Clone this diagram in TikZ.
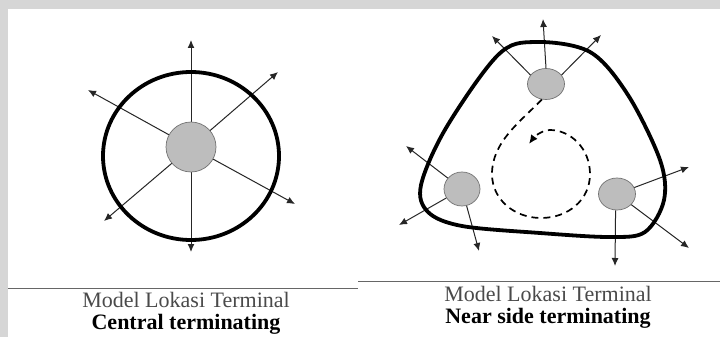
\documentclass[tikz,border=0pt]{standalone}
\usepackage{fontspec}
\setmainfont{Liberation Serif}
\usetikzlibrary{arrows.meta,shapes.geometric}
\definecolor{framegray}{HTML}{D6D6D6}
\definecolor{termgray}{HTML}{BDBDBD}
\definecolor{capgray}{HTML}{4A4A4A}

\begin{document}
\begin{tikzpicture}[x=1pt,y=-1pt,
  terminal/.style={ellipse,draw=black!55,fill=termgray,line width=0.7pt,inner sep=0pt},
  route/.style={draw=black!85,line width=1pt,-{Latex[length=8pt,width=7pt]}},
  boundary/.style={line width=3.8pt},
  circuit/.style={line width=1.7pt,dash pattern=on 7pt off 5pt,-{Latex[length=9pt,width=8pt]}},
  caption/.style={align=center,inner sep=0pt,font=\fontsize{22}{22}\selectfont}]
  \useasboundingbox (0,0) rectangle (720,337);
  \fill[white] (0,0) rectangle (720,337);
  \fill[framegray] (0,0) rectangle (720,9);
  \fill[framegray] (0,0) rectangle (8,337);

  % central terminating
  \foreach \i/\x/\y in {n/191/40,s/191/252,nw/88/90,ne/278/72,sw/104/221,se/295/204}
    \coordinate (cl-\i) at (\x,\y);
  \foreach \i in {n,s,nw,ne,sw,se}
    \draw[route] (191,147) -- (cl-\i);
  \node[terminal,minimum width=50pt,minimum height=50pt] (ct) at (191,147) {};
  \draw[boundary] (191,156) ellipse [x radius=88,y radius=84];
  \draw[black!60,line width=0.8pt] (8,288) -- (358,288);
  \node[caption] (cap1) at (186,313)
    {\textcolor{capgray}{Model Lokasi Terminal}\\ \textbf{Central terminating}};

  % near side terminating
  \node[terminal,minimum width=37pt,minimum height=31pt] (tn) at (546,84) {};
  \node[terminal,minimum width=36pt,minimum height=34pt] (tl) at (462,189) {};
  \node[terminal,minimum width=37pt,minimum height=32pt] (tr) at (617,194) {};
  \foreach \i/\x/\y in {n/543/19,nw/492/36,ne/601/35}
    \coordinate (rn-\i) at (\x,\y);
  \foreach \i/\x/\y in {nw/406/146,sw/399/225,s/479/251}
    \coordinate (rl-\i) at (\x,\y);
  \foreach \i/\x/\y in {e/689/167,se/689/248,s/615/266}
    \coordinate (rr-\i) at (\x,\y);
  \draw[route] (tn.north) -- (rn-n);
  \draw[route] (tn.150) -- (rn-nw);
  \draw[route] (tn.30) -- (rn-ne);
  \draw[route] (tl) -- (rl-nw);
  \draw[route] (tl) -- (rl-sw);
  \draw[route] (tl) -- (rl-s);
  \draw[route] (tr) -- (rr-e);
  \draw[route] (tr) -- (rr-se);
  \draw[route] (tr.-95) -- (rr-s);
  \draw[boundary] plot[smooth cycle,tension=0.55] coordinates {
    (535,42) (590,52) (628,95) (660,160) (664,200) (645,232) (610,237)
    (540,233) (462,226) (428,212) (421,185) (446,128) (498,55)};
  \coordinate (loop-end) at (529,144);
  \draw[circuit] (tn.255) .. controls (520,122) and (492,142) .. (492,174)
    .. controls (492,200) and (515,218) .. (541,218)
    .. controls (568,218) and (590,200) .. (590,174)
    .. controls (590,148) and (570,130) .. (550,130)
    .. controls (542,130) and (534,137) .. (loop-end);
  \draw[black!60,line width=0.8pt] (358,281) -- (720,281);
  \node[caption] (cap2) at (548,307)
    {\textcolor{capgray}{Model Lokasi Terminal}\\ \textbf{Near side terminating}};
\end{tikzpicture}
\end{document}
